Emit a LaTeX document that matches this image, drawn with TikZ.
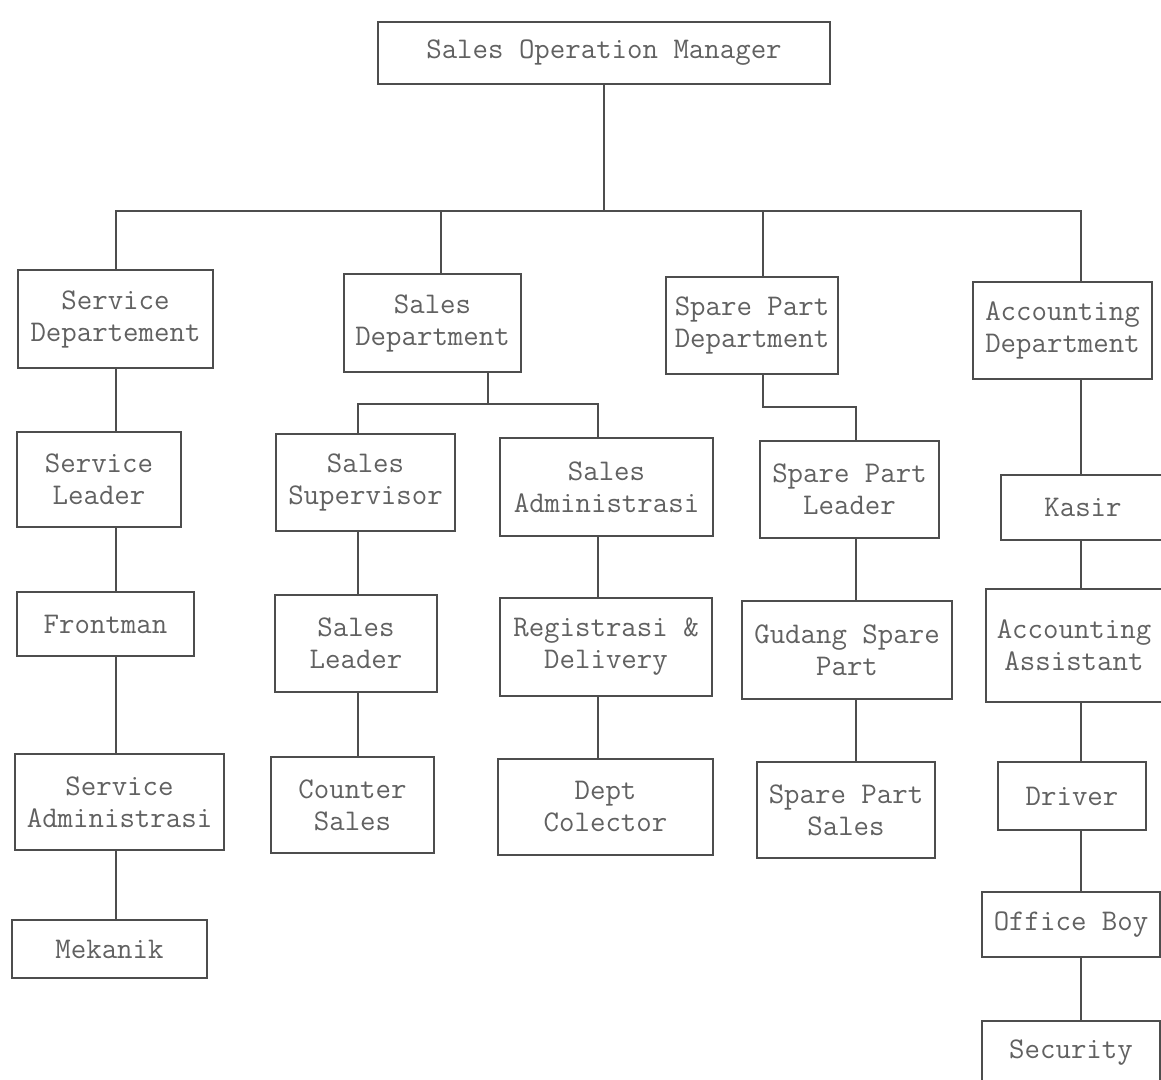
\documentclass[tikz,border=0pt]{standalone}
\usetikzlibrary{positioning}
\definecolor{ink}{HTML}{4D4D4D}
\definecolor{inktext}{HTML}{616161}
\tikzset{
  box/.style={draw=ink,line width=.9pt,fill=white,inner sep=0pt,align=center,text=inktext,font=\ttfamily\fontsize{15}{16}\selectfont},
  sz/.style 2 args={minimum width=#1*.5pt,minimum height=#2*.5pt},
  ln/.style={draw=ink,line width=.6pt},
}
\begin{document}
\begin{tikzpicture}[x=.5pt,y=-.5pt]
  \useasboundingbox (0,0) rectangle (1161,1080);
  \clip (0,0) rectangle (1161,1080);

  % ── top and departments ──
  \node[box,sz={452}{62}] (som) at (604,53) {Sales Operation Manager};
  \node[box,sz={195}{98}] (svd) at (115.5,319) {Service\\Departement};
  \node[box,sz={177}{98}] (sld) at (432.5,323) {Sales\\Department};
  \node[box,sz={172}{97}] (spd) at (752,325.5) {Spare Part\\Department};
  \node[box,sz={179}{97}] (acd) at (1062.5,330.5) {Accounting\\Department};

  % ── service column ──
  \node[box,sz={164}{95}] (svl) at (99,479.5) {Service\\Leader};
  \node[box,sz={177}{64}] (frm) at (105.5,624) {Frontman};
  \node[box,sz={209}{96}] (sva) at (119.5,802) {Service\\Administrasi};
  \node[box,sz={195}{58}] (mek) at (109.5,949) {Mekanik};

  % ── sales columns ──
  \node[box,sz={179}{97}] (ssp) at (365.5,482.5) {Sales\\Supervisor};
  \node[box,sz={162}{97}] (sle) at (356,643.5) {Sales\\Leader};
  \node[box,sz={163}{96}] (cts) at (352.5,805) {Counter\\Sales};
  \node[box,sz={213}{98}] (sad) at (606.5,487) {Sales\\Administrasi};
  \node[box,sz={212}{98}] (rgd) at (606,647) {Registrasi \&\\Delivery};
  \node[box,sz={215}{96}] (dco) at (605.5,807) {Dept\\Colector};

  % ── spare part column ──
  \node[box,sz={179}{97}] (spl) at (849.5,489.5) {Spare Part\\Leader};
  \node[box,sz={210}{98}] (gsp) at (847,650) {Gudang Spare\\Part};
  \node[box,sz={178}{96}] (sps) at (846,810) {Spare Part\\Sales};

  % ── accounting column ──
  \node[box,sz={164}{65}] (ksr) at (1083,507.5) {Kasir};
  \node[box,sz={176}{113}] (aca) at (1074,645.5) {Accounting\\Assistant};
  \node[box,sz={148}{68}] (drv) at (1072,796) {Driver};
  \node[box,sz={178}{65}] (ofb) at (1071,924.5) {Office Boy};
  \node[box,sz={178}{64}] (sec) at (1071,1053) {Security};

  % line columns
  \coordinate (bus) at (604,211);
  \coordinate (cSv) at (116,0);
  \coordinate (cSa) at (441,0);
  \coordinate (cSp) at (763,0);
  \coordinate (cAc) at (1081,0);
  \coordinate (cSs) at (358,0);
  \coordinate (cAd) at (598,0);
  \coordinate (cSl) at (856,0);
  \coordinate (sj) at (488,404);
  \coordinate (pj) at (763,407);

  \draw[ln] (som.south) -- (som.south |- bus);
  \draw[ln] (svd.north -| cSv) |- (bus) -| (acd.north -| cAc);
  \draw[ln] (bus -| cSa) -- (sld.north -| cSa);
  \draw[ln] (bus -| cSp) -- (spd.north -| cSp);

  \draw[ln] (sld.south -| sj) -- (sj);
  \draw[ln] (ssp.north -| cSs) |- (sj) -| (sad.north -| cAd);
  \draw[ln] (spd.south -| pj) -- (pj) -| (spl.north -| cSl);

  \foreach \a/\b in {svd/svl,svl/frm,frm/sva,sva/mek}
    \draw[ln] (\a.south -| cSv) -- (\b.north -| cSv);
  \foreach \a/\b in {ssp/sle,sle/cts}
    \draw[ln] (\a.south -| cSs) -- (\b.north -| cSs);
  \foreach \a/\b in {sad/rgd,rgd/dco}
    \draw[ln] (\a.south -| cAd) -- (\b.north -| cAd);
  \foreach \a/\b in {spl/gsp,gsp/sps}
    \draw[ln] (\a.south -| cSl) -- (\b.north -| cSl);
  \foreach \a/\b in {acd/ksr,ksr/aca,aca/drv,drv/ofb,ofb/sec}
    \draw[ln] (\a.south -| cAc) -- (\b.north -| cAc);
\end{tikzpicture}
\end{document}
